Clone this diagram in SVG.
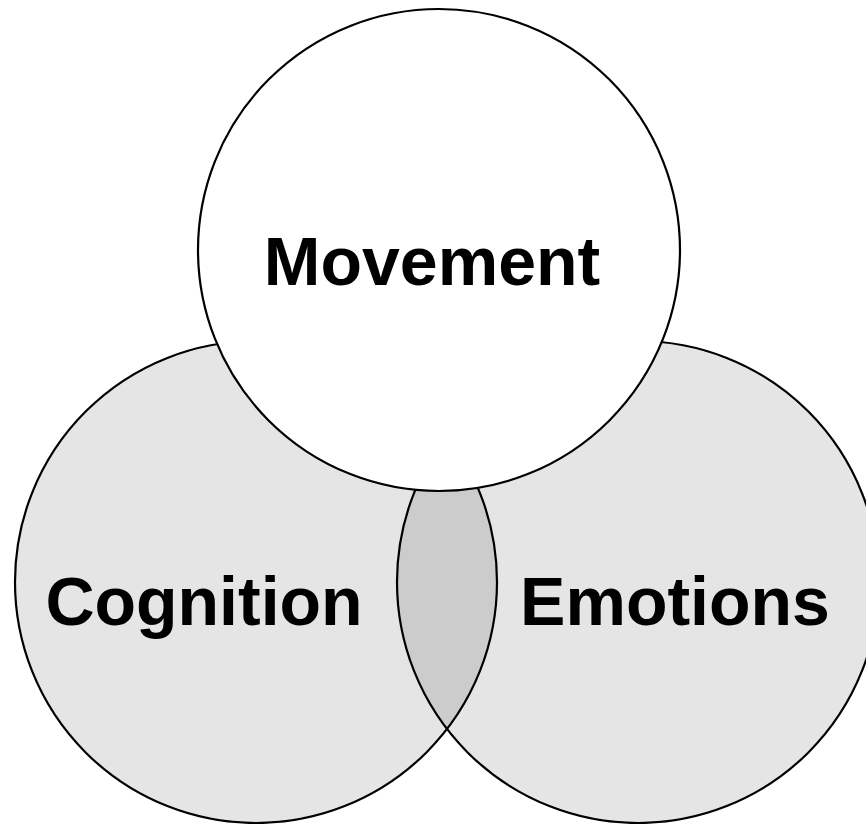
<svg xmlns="http://www.w3.org/2000/svg" width="866" height="824" viewBox="0 0 866 824">
  <style>
    .fill { fill: #e5e5e5; stroke: none; }
    .lens { fill: #cccccc; stroke: none; }
    .edge { fill: none; stroke: #000000; stroke-width: 2.2; }
    .top { fill: #ffffff; stroke: #000000; stroke-width: 2.2; }
    .label { font-family: "Liberation Sans", Arial, sans-serif; font-weight: bold; font-size: 68px; fill: #000000; text-anchor: middle; }
  </style>
  <defs>
    <clipPath id="clipLeft">
      <circle cx="256" cy="582" r="241"/>
    </clipPath>
  </defs>
  <rect x="0" y="0" width="866" height="824" fill="#ffffff"/>
  <g id="cognition-circle">
    <circle class="fill" cx="256" cy="582" r="241"/>
  </g>
  <g id="emotions-circle">
    <circle class="fill" cx="638" cy="582" r="241"/>
  </g>
  <g id="overlap">
    <circle class="lens" cx="638" cy="582" r="241" clip-path="url(#clipLeft)"/>
  </g>
  <g id="outlines">
    <circle class="edge" cx="256" cy="582" r="241"/>
    <circle class="edge" cx="638" cy="582" r="241"/>
  </g>
  <g id="cognition">
    <text class="label" x="204" y="625">Cognition</text>
  </g>
  <g id="emotions">
    <text class="label" x="675" y="625">Emotions</text>
  </g>
  <g id="movement">
    <circle class="top" cx="439" cy="250" r="241"/>
    <text class="label" x="432" y="285">Movement</text>
  </g>
</svg>
